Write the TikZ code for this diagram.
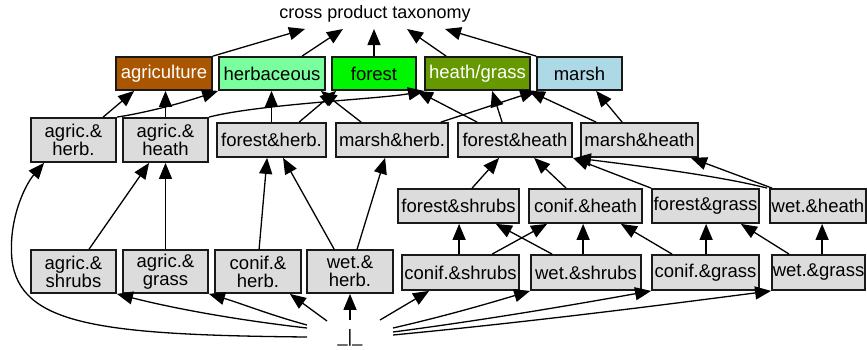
\documentclass[tikz,border=0pt]{standalone}
\usepackage{fontspec}
\setmainfont{Liberation Sans}
\usetikzlibrary{arrows.meta,calc}
\definecolor{agricol}{RGB}{170,85,0}
\definecolor{herbcol}{RGB}{122,255,158}
\definecolor{forestcol}{RGB}{0,245,0}
\definecolor{heathcol}{RGB}{102,153,0}
\definecolor{marshcol}{RGB}{173,216,230}
\definecolor{boxgray}{RGB}{220,220,220}
\begin{document}
\begin{tikzpicture}[x=1pt,y=-1pt,
  box/.style={draw=black!90, line width=1.8pt, fill=boxgray, inner sep=0pt, align=center,
              font=\fontsize{18.5}{18}\selectfont},
  arr/.style={-{Triangle[length=16pt,width=13pt]}, line width=1.3pt, black},
  lbl/.style={inner sep=0pt, font=\fontsize{18}{18}\selectfont}]
\useasboundingbox (0,0) rectangle (867,349);

% title
\node[lbl, anchor=base] (title) at (375,18.5) {cross product taxonomy};

% row 1
\node[box, minimum width=96pt, minimum height=33pt, fill=agricol, text=white] (agri) at (164,73.5) {agriculture};
\node[box, minimum width=106pt, minimum height=33pt, fill=herbcol] (herbac) at (272,73.5) {herbaceous};
\node[box, minimum width=84pt, minimum height=33pt, fill=forestcol] (forest) at (374,73.5) {forest};
\node[box, minimum width=105pt, minimum height=33pt, fill=heathcol, text=white] (heath) at (477.5,73.5) {heath/grass};
\node[box, minimum width=85pt, minimum height=33pt, fill=marshcol] (marsh) at (579.5,73.5) {marsh};

% row 2
\node[box, minimum width=85pt, minimum height=44pt] (agherb) at (73.5,140) {agric.\&\\herb.};
\node[box, minimum width=85pt, minimum height=44pt] (agheath) at (165.5,140) {agric.\&\\heath};
\node[box, minimum width=109pt, minimum height=34pt] (forestherb) at (271.5,140) {forest\&herb.};
\node[box, minimum width=112pt, minimum height=34pt] (marshherb) at (392,140) {marsh\&herb.};
\node[box, minimum width=114pt, minimum height=34pt] (forestheath) at (515,140) {forest\&heath};
\node[box, minimum width=117pt, minimum height=34pt] (marshheath) at (639.5,140) {marsh\&heath};

% row 3
\node[box, minimum width=121pt, minimum height=34pt] (forestshrubs) at (458.5,206) {forest\&shrubs};
\node[box, minimum width=113pt, minimum height=34pt] (conifheath) at (585.5,206) {conif.\&heath};
\node[box, minimum width=107pt, minimum height=34pt] (forestgrass) at (705.5,206) {forest\&grass};
\node[box, minimum width=96pt, minimum height=34pt] (wetheath) at (818,206) {wet.\&heath};

% row 4
\node[box, minimum width=85pt, minimum height=43pt] (agshrubs) at (73.5,271.5) {agric.\&\\shrubs};
\node[box, minimum width=85pt, minimum height=43pt] (aggrass) at (165.5,271.5) {agric.\&\\grass};
\node[box, minimum width=86pt, minimum height=43pt] (conifherb) at (258,271.5) {conif.\&\\herb.};
\node[box, minimum width=86pt, minimum height=43pt] (wetherb) at (350,271.5) {wet.\&\\herb.};
\node[box, minimum width=117pt, minimum height=35pt] (conifshrubs) at (460.5,272.5) {conif.\&shrubs};
\node[box, minimum width=110pt, minimum height=35pt] (wetshrubs) at (586,272.5) {wet.\&shrubs};
\node[box, minimum width=107pt, minimum height=35pt] (conifgrass) at (705.5,272.5) {conif.\&grass};
\node[box, minimum width=93pt, minimum height=35pt] (wetgrass) at (818.5,272.5) {wet.\&grass};

% bottom
\node[lbl, anchor=base] (bot) at (350,342) {\_|\_};

% row 1 -> title
\draw[arr] (agri.north east) -- ($(title.base)+(-70,10.5)$);
\draw[arr] ($(herbac.north west)+(84,0)$) -- ($(title.base)+(-32,10.5)$);
\draw[arr] (forest.north) -- ($(title.base)+(-1,10.5)$);
\draw[arr] ($(heath.north west)+(22,0)$) -- ($(title.base)+(32,10.5)$);
\draw[arr] (marsh.north west) -- ($(title.base)+(70,10.5)$);

% row 2 -> row 1
\draw[arr] ($(agherb.north west)+(73,0)$) -- ($(agri.south west)+(19,0)$);
\draw[arr] (agherb.north east) .. controls (150,112) and (185,102) .. (herbac.south west);
\draw[arr] (agheath.north) -- (agheath.north |- agri.south);
\draw[arr] (agheath.north east) .. controls (260,104) and (380,99) .. (heath.south west);
\draw[arr] (forestherb.north) -- (forestherb.north |- herbac.south);
\draw[arr] ($(forestherb.north west)+(83,0)$) -- ($(forest.south west)+(5,0)$);
\draw[arr] ($(marshherb.north west)+(26,0)$) -- ($(herbac.south east)+(-5,0)$);
\draw[arr] ($(marshherb.north east)+(-8,0)$) -- (marsh.south west);
\draw[arr] ($(forestheath.north west)+(20,0)$) -- (forest.south east);
\draw[arr] ($(forestheath.north west)+(45,0)$) -- ($(heath.south west)+(68,0)$);
\draw[arr] ($(marshheath.north west)+(16,0)$) -- ($(heath.south east)+(-2,0)$);
\draw[arr] ($(marshheath.north west)+(42,0)$) -- ($(marsh.south west)+(60,0)$);

% row 3 -> row 2
\draw[arr] ($(forestshrubs.north west)+(75,0)$) -- ($(forestheath.south west)+(42,0)$);
\draw[arr] ($(conifheath.north west)+(38,0)$) -- ($(forestheath.south west)+(77,0)$);
\draw[arr] (forestgrass.north west) -- (forestheath.south east);
\draw[arr] ($(wetheath.north west)+(-2,0)$) .. controls (720,176) and (640,166) .. ($(forestheath.south east)+(2,0)$);
\draw[arr] ($(wetheath.north west)+(3,0)$) -- ($(marshheath.south east)+(-8,0)$);

% row 4 -> row 3
\draw[arr] ($(conifshrubs.north west)+(58,0)$) -- ($(forestshrubs.south west)+(62,0)$);
\draw[arr] ($(conifshrubs.north west)+(91,0)$) -- ($(conifheath.south west)+(19,0)$);
\draw[arr] ($(wetshrubs.north west)+(22,0)$) -- ($(forestshrubs.south east)+(-24,0)$);
\draw[arr] ($(wetshrubs.north west)+(53,0)$) -- ($(conifheath.south west)+(55,0)$);
\draw[arr] ($(conifgrass.north west)+(21,0)$) -- ($(conifheath.south east)+(-22,0)$);
\draw[arr] ($(conifgrass.north west)+(55,0)$) -- ($(forestgrass.south west)+(55,0)$);
\draw[arr] ($(wetgrass.north west)+(18,0)$) -- ($(forestgrass.south east)+(-19,0)$);
\draw[arr] ($(wetgrass.north west)+(51,0)$) -- ($(wetheath.south west)+(53,0)$);

% row 4 -> row 2
\draw[arr] ($(agshrubs.north west)+(59,0)$) -- ($(agheath.south west)+(27,0)$);
\draw[arr] (aggrass.north) -- (aggrass.north |- agheath.south);
\draw[arr] ($(conifherb.north west)+(45,0)$) -- ($(forestherb.south west)+(51,0)$);
\draw[arr] ($(wetherb.north west)+(28,0)$) -- ($(forestherb.south west)+(67,0)$);
\draw[arr] ($(wetherb.north west)+(51,0)$) -- ($(marshherb.south west)+(50,0)$);

% bottom -> nodes
\draw[arr] ($(bot.base)+(-43,-5)$) .. controls (100,335) and (20,325) .. (12,260)
   .. controls (8,220) and (25,185) .. ($(agherb.south west)+(14,0)$);
\draw[arr] ($(bot.base)+(-43,-14)$) .. controls (220,318) and (160,305) .. (agshrubs.south east);
\draw[arr] ($(bot.base)+(-43,-17)$) .. controls (270,315) and (240,303) .. (aggrass.south east);
\draw[arr] ($(bot.base)+(-23,-21)$) -- ($(conifherb.south east)+(-12,0)$);
\draw[arr] ($(bot.base)+(0,-22)$) -- (wetherb.south);
\draw[arr] ($(bot.base)+(30,-22)$) -- ($(conifshrubs.south west)+(28,0)$);
\draw[arr] ($(bot.base)+(43,-14)$) .. controls (450,315) and (500,300) .. (wetshrubs.south west);
\draw[arr] ($(bot.base)+(43,-10)$) .. controls (500,318) and (600,300) .. (conifgrass.south west);
\draw[arr] ($(bot.base)+(43,-7)$) .. controls (550,320) and (700,300) .. (wetgrass.south west);
\end{tikzpicture}
\end{document}
